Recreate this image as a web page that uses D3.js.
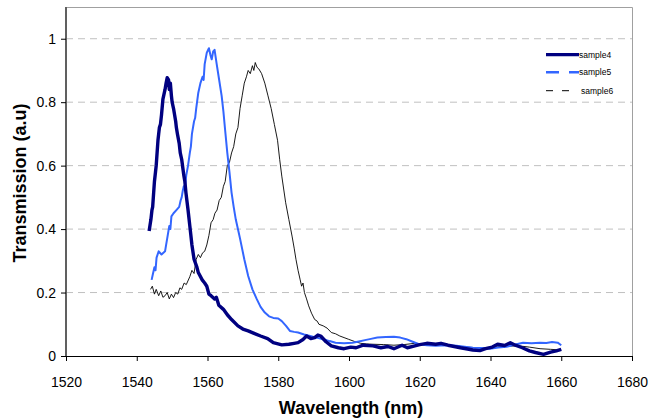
<!DOCTYPE html>
<html><head><meta charset="utf-8">
<script src="https://cdn.jsdelivr.net/npm/d3@7"></script>
<style>body{margin:0;background:#fff}svg{display:block}text{font-family:"Liberation Sans",Arial,sans-serif}</style>
</head><body>
<svg id="c" width="651" height="419"></svg>
<script>
const xTicks = [1520,1540,1560,1580,1600,1620,1640,1660,1680];
const yTicks = [0,0.2,0.4,0.6,0.8,1];
const seriesNames = ["sample4","sample5","sample6"];

const sample4 = [[1543.5,0.394],[1544.0,0.43],[1544.3,0.46],[1544.5,0.47],[1545.0,0.55],[1545.3,0.58],[1545.5,0.60],[1546.0,0.68],[1546.2,0.70],[1546.4,0.72],[1546.7,0.73],[1547.0,0.76],[1547.4,0.81],[1548.0,0.84],[1548.3,0.86],[1548.6,0.877],[1549.0,0.87],[1549.2,0.84],[1549.5,0.86],[1549.8,0.82],[1550.0,0.80],[1550.4,0.78],[1551.0,0.74],[1551.2,0.72],[1551.5,0.70],[1552.0,0.67],[1552.3,0.64],[1552.7,0.62],[1553.3,0.57],[1553.6,0.55],[1553.9,0.515],[1554.5,0.46],[1555.0,0.41],[1555.3,0.38],[1555.6,0.35],[1556.2,0.305],[1557.0,0.28],[1557.4,0.263],[1558.5,0.24],[1559.2,0.23],[1559.8,0.22],[1560.4,0.195],[1561.0,0.19],[1562.0,0.18],[1562.5,0.185],[1563.2,0.16],[1564.5,0.147],[1565.6,0.13],[1566.8,0.115],[1568.6,0.095],[1570.0,0.085],[1571.5,0.079],[1573.0,0.072],[1575.0,0.063],[1577.0,0.055],[1578.6,0.042],[1581.0,0.035],[1583.0,0.037],[1584.5,0.040],[1585.6,0.042],[1587.0,0.052],[1588.0,0.063],[1589.2,0.055],[1590.3,0.058],[1591.2,0.066],[1592.0,0.063],[1593.5,0.045],[1595.0,0.032],[1597.0,0.026],[1598.6,0.023],[1600.5,0.028],[1602.0,0.026],[1604.0,0.034],[1606.8,0.032],[1609.0,0.026],[1611.0,0.030],[1612.7,0.023],[1615.0,0.034],[1616.5,0.026],[1618.6,0.032],[1620.0,0.036],[1622.0,0.040],[1624.5,0.037],[1626.0,0.040],[1628.0,0.034],[1631.5,0.026],[1633.5,0.022],[1635.0,0.019],[1637.0,0.017],[1638.6,0.023],[1640.5,0.028],[1642.0,0.037],[1644.0,0.033],[1645.6,0.042],[1647.0,0.034],[1649.0,0.026],[1651.0,0.016],[1652.7,0.011],[1655.0,0.005],[1657.0,0.012],[1658.6,0.016],[1660.0,0.021]];

const sample5 = [[1544.2,0.24],[1544.6,0.26],[1545.0,0.28],[1545.3,0.27],[1545.6,0.31],[1546.2,0.33],[1547.0,0.32],[1548.0,0.33],[1548.3,0.35],[1548.6,0.37],[1549.2,0.41],[1549.5,0.40],[1549.8,0.44],[1550.4,0.45],[1551.2,0.46],[1552.0,0.47],[1552.4,0.49],[1552.7,0.50],[1553.0,0.52],[1553.3,0.535],[1553.6,0.53],[1554.0,0.57],[1554.5,0.60],[1555.0,0.64],[1555.3,0.66],[1555.6,0.70],[1556.2,0.74],[1556.5,0.75],[1556.8,0.78],[1557.4,0.83],[1558.0,0.86],[1558.6,0.88],[1558.9,0.87],[1559.2,0.92],[1559.8,0.956],[1560.4,0.97],[1560.8,0.95],[1561.2,0.935],[1561.6,0.96],[1562.0,0.965],[1562.6,0.92],[1563.3,0.87],[1564.0,0.82],[1564.5,0.77],[1565.0,0.71],[1565.6,0.64],[1566.2,0.58],[1566.8,0.515],[1567.4,0.47],[1568.0,0.43],[1568.6,0.40],[1569.2,0.37],[1570.4,0.305],[1571.5,0.252],[1572.7,0.21],[1573.9,0.18],[1575.0,0.155],[1576.2,0.137],[1577.4,0.125],[1578.6,0.12],[1580.0,0.118],[1581.0,0.11],[1582.2,0.095],[1583.3,0.079],[1584.5,0.076],[1585.6,0.074],[1587.3,0.068],[1589.0,0.063],[1590.8,0.058],[1592.7,0.053],[1594.5,0.047],[1596.2,0.042],[1598.6,0.040],[1601.0,0.042],[1602.8,0.046],[1604.5,0.050],[1606.2,0.054],[1608.0,0.058],[1610.4,0.060],[1612.7,0.061],[1614.5,0.058],[1616.2,0.053],[1618.0,0.045],[1619.8,0.037],[1622.0,0.034],[1624.5,0.032],[1627.5,0.034],[1630.4,0.032],[1632.7,0.029],[1635.0,0.026],[1637.4,0.025],[1639.8,0.023],[1642.2,0.027],[1644.5,0.029],[1647.0,0.036],[1649.2,0.042],[1651.6,0.040],[1654.0,0.042],[1655.8,0.041],[1657.4,0.044],[1659.0,0.042],[1660.0,0.034]];

const sample6 = [[1543.9,0.21],[1544.4,0.22],[1545.0,0.195],[1545.5,0.21],[1546.2,0.19],[1546.8,0.205],[1547.4,0.185],[1548.0,0.19],[1548.6,0.20],[1549.2,0.18],[1549.8,0.195],[1550.4,0.184],[1551.0,0.20],[1551.6,0.195],[1552.2,0.215],[1552.7,0.21],[1553.4,0.23],[1554.0,0.225],[1555.0,0.25],[1555.6,0.27],[1556.2,0.26],[1556.8,0.305],[1557.4,0.32],[1558.0,0.31],[1558.6,0.325],[1559.2,0.33],[1559.8,0.35],[1560.4,0.38],[1561.0,0.42],[1561.6,0.43],[1562.1,0.45],[1562.7,0.46],[1563.3,0.49],[1563.9,0.50],[1564.5,0.535],[1565.0,0.55],[1565.6,0.60],[1566.2,0.61],[1566.8,0.64],[1567.4,0.66],[1568.0,0.70],[1568.6,0.72],[1569.2,0.78],[1569.8,0.82],[1570.4,0.86],[1571.0,0.88],[1571.5,0.90],[1572.1,0.89],[1572.7,0.915],[1573.1,0.90],[1573.5,0.925],[1574.0,0.91],[1574.5,0.905],[1575.3,0.89],[1576.2,0.86],[1577.1,0.82],[1578.0,0.78],[1578.9,0.73],[1579.8,0.68],[1580.4,0.62],[1581.0,0.567],[1582.1,0.483],[1583.0,0.43],[1583.9,0.378],[1584.5,0.34],[1585.0,0.305],[1585.6,0.27],[1586.2,0.24],[1586.6,0.22],[1587.0,0.23],[1587.4,0.2],[1588.0,0.18],[1588.6,0.158],[1589.4,0.135],[1590.3,0.115],[1591.0,0.11],[1591.5,0.10],[1592.7,0.095],[1593.8,0.088],[1595.0,0.074],[1596.2,0.070],[1597.4,0.063],[1598.6,0.058],[1599.8,0.053],[1601.5,0.046],[1603.3,0.040],[1605.0,0.038],[1606.8,0.037],[1609.8,0.036],[1612.7,0.034],[1615.6,0.036],[1618.6,0.040],[1621.5,0.038],[1624.5,0.037],[1627.5,0.035],[1630.4,0.032],[1633.3,0.028],[1636.3,0.026],[1639.2,0.027],[1642.0,0.029],[1645.0,0.031],[1648.0,0.032],[1651.0,0.028],[1654.0,0.023],[1657.0,0.021],[1660.0,0.019]];

const svg = d3.select("#c");
const L = 66, R = 632, T = 7, B = 356;
const x = d3.scaleLinear().domain([1520,1680]).range([L,R]);
const y = d3.scaleLinear().domain([0,1.1]).range([B,T]);

// gridlines
svg.append("g").selectAll("line").data(yTicks.filter(d=>d>0)).join("line")
  .attr("x1",L).attr("x2",R).attr("y1",d=>y(d)).attr("y2",d=>y(d))
  .attr("stroke","#c0c0c0").attr("stroke-width",1).attr("stroke-dasharray","7,5");

// plot border top/right
svg.append("path").attr("d",`M${L},${T+0.5}H${R+0.5}V${B}`).attr("fill","none").attr("stroke","#a0a0a0").attr("stroke-width",1);

// curves
const line = d3.line().x(d=>x(d[0])).y(d=>y(d[1]));
const styles = [
  {data:sample4,color:"#000080",w:3.4},
  {data:sample5,color:"#3366ff",w:2},
  {data:sample6,color:"#000000",w:0.9}
];
[styles[2],styles[1],styles[0]].forEach(s=>{
  svg.append("path").datum(s.data).attr("d",line).attr("fill","none")
    .attr("stroke",s.color).attr("stroke-width",s.w).attr("stroke-linejoin","round");
});

// axes
const xAxis = d3.axisBottom(x).tickValues(xTicks).tickSize(5).tickFormat(d3.format("d"));
const gx = svg.append("g").attr("transform",`translate(0,${B})`).call(xAxis);
gx.select(".domain").attr("stroke","#000").attr("d",`M${L},0.5H${R}`);
gx.selectAll(".tick line").attr("stroke","#000");
gx.selectAll(".tick text").attr("font-size",14).attr("fill","#000").attr("dy",null).attr("y",31).attr("font-family","Liberation Sans, Arial, sans-serif");

const yAxis = d3.axisLeft(y).tickValues(yTicks).tickSize(5).tickPadding(5).tickFormat(d=>String(d));
const gy = svg.append("g").attr("transform",`translate(${L},0)`).call(yAxis);
gy.select(".domain").attr("stroke","#606060").attr("stroke-width",2).attr("d",`M0,${T}V${B}`);
gy.selectAll(".tick line").attr("stroke","#000");
gy.selectAll(".tick text").attr("font-size",14).attr("fill","#000").attr("font-family","Liberation Sans, Arial, sans-serif");

// axis titles
svg.append("text").attr("x",351).attr("y",413.5).attr("text-anchor","middle")
  .attr("font-size",18).attr("font-weight","bold").text("Wavelength (nm)");
svg.append("text").attr("transform","translate(25.5,183) rotate(-90)").attr("text-anchor","middle")
  .attr("font-size",18).attr("font-weight","bold").text("Transmission (a.u)");

// legend
const lg = svg.append("g");
const legY = [54.7,72.3,90.7];
const legStyle = [
  {color:"#000080",w:3.2,dash:null,x2:579},
  {color:"#3366ff",w:2.6,dash:"13,10",x2:579},
  {color:"#000000",w:1,dash:"7,9",x2:570}
];
seriesNames.forEach((n,i)=>{
  lg.append("line").attr("x1",546).attr("x2",legStyle[i].x2).attr("y1",legY[i]).attr("y2",legY[i])
    .attr("stroke",legStyle[i].color).attr("stroke-width",legStyle[i].w)
    .attr("stroke-dasharray",legStyle[i].dash);
  lg.append("text").attr("x",i==2?581:579).attr("y",legY[i]+3).attr("font-size",8.5).attr("fill","#000").text(n);
});
</script>
</body></html>
